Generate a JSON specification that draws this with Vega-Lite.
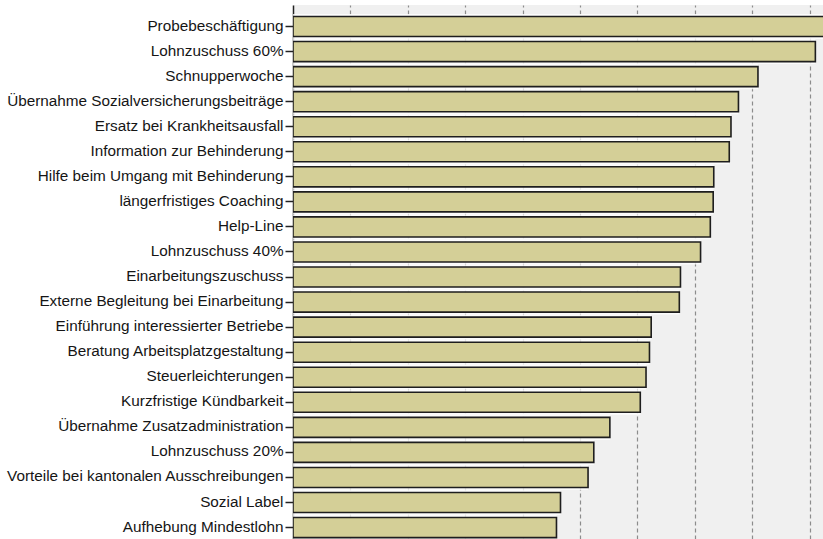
{
  "$schema": "https://vega.github.io/schema/vega-lite/v6.json",
  "autosize": {"type": "none"},
  "width": 530,
  "height": 534,
  "padding": {"left": 293, "top": 5, "right": 0, "bottom": 0},
  "background": "#ffffff",
  "config": {
    "view": {"stroke": null, "fill": "#f0f0f0"},
    "font": "Liberation Sans"
  },
  "data": {
    "values": [
      {"massnahme": "Probebeschäftigung", "wert": 95.0},
      {"massnahme": "Lohnzuschuss 60%", "wert": 91.0},
      {"massnahme": "Schnupperwoche", "wert": 81.0},
      {"massnahme": "Übernahme Sozialversicherungsbeiträge", "wert": 77.6},
      {"massnahme": "Ersatz bei Krankheitsausfall", "wert": 76.3},
      {"massnahme": "Information zur Behinderung", "wert": 76.0},
      {"massnahme": "Hilfe beim Umgang mit Behinderung", "wert": 73.3},
      {"massnahme": "längerfristiges Coaching", "wert": 73.2},
      {"massnahme": "Help-Line", "wert": 72.7},
      {"massnahme": "Lohnzuschuss 40%", "wert": 71.0},
      {"massnahme": "Einarbeitungszuschuss", "wert": 67.5},
      {"massnahme": "Externe Begleitung bei Einarbeitung", "wert": 67.3},
      {"massnahme": "Einführung interessierter Betriebe", "wert": 62.4},
      {"massnahme": "Beratung Arbeitsplatzgestaltung", "wert": 62.1},
      {"massnahme": "Steuerleichterungen", "wert": 61.5},
      {"massnahme": "Kurzfristige Kündbarkeit", "wert": 60.5},
      {"massnahme": "Übernahme Zusatzadministration", "wert": 55.2},
      {"massnahme": "Lohnzuschuss 20%", "wert": 52.4},
      {"massnahme": "Vorteile bei kantonalen Ausschreibungen", "wert": 51.4},
      {"massnahme": "Sozial Label", "wert": 46.6},
      {"massnahme": "Aufhebung Mindestlohn", "wert": 45.9}
    ]
  },
  "encoding": {
    "y": {
      "field": "massnahme",
      "type": "nominal",
      "sort": null,
      "title": null,
      "scale": {"paddingInner": 0.2, "paddingOuter": 0.258, "align": 0.89},
      "axis": {
        "labelFont": "Liberation Sans",
        "labelFontSize": 15.3,
        "labelColor": "#151515",
        "labelPadding": 2,
        "labelOffset": -1,
        "tickSize": 8,
        "tickColor": "#222222",
        "tickWidth": 1.5,
        "domainColor": "#222222",
        "domainWidth": 1.5,
        "labelLimit": 400
      }
    },
    "x": {
      "field": "wert",
      "type": "quantitative",
      "title": null,
      "scale": {"domain": [0, 92.33], "nice": false, "zero": true},
      "axis": {
        "values": [10, 20, 30, 40, 50, 60, 70, 80, 90],
        "labels": false,
        "ticks": false,
        "domain": false,
        "grid": true,
        "gridColor": "#8c8c8c",
        "gridDash": [4, 3],
        "gridWidth": 1.2
      }
    }
  },
  "layer": [
    {
      "mark": {"type": "bar", "clip": true, "fill": "#ffffff", "opacity": 0.8, "height": {"band": 1.25}}
    },
    {
      "mark": {"type": "bar", "clip": true, "fill": "#d4cf97", "stroke": "#1e1e1e", "strokeWidth": 1.6}
    }
  ]
}
